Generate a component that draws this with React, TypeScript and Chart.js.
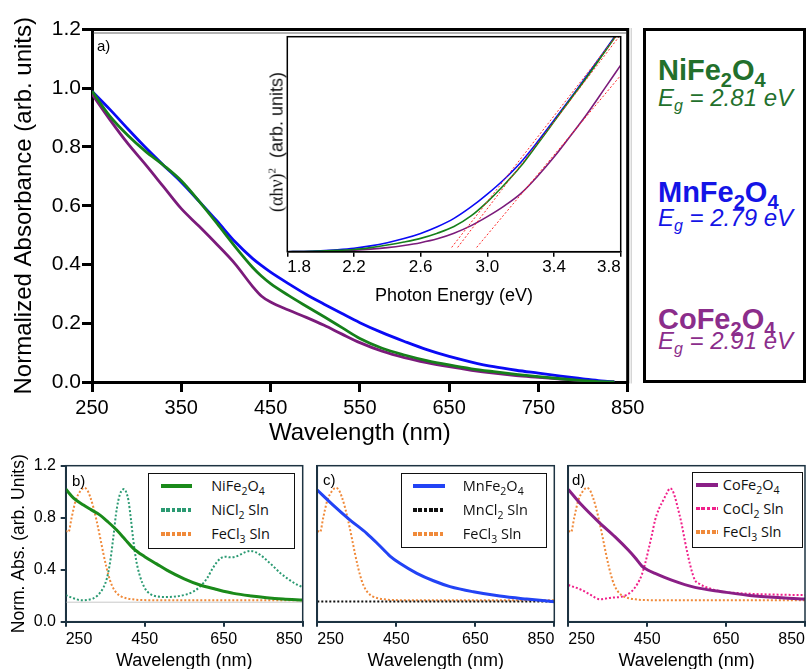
import React, { useEffect, useRef } from "react";
import { Chart, registerables } from "chart.js";

Chart.register(...registerables);
Chart.defaults.font.family = "'Liberation Sans', Arial, Helvetica, sans-serif";
Chart.defaults.color = "#000";

// ---------------- data: panel a (main) ----------------
const MAIN_WAVELENGTH = [250, 270, 290, 310, 330, 350, 370, 390, 410, 430, 440, 450, 470, 490, 510, 530, 550, 575, 600, 625, 650, 675, 700, 725, 750, 775, 800, 820, 835];
const MAIN_NIFE2O4 = [0.99, 0.905, 0.84, 0.785, 0.738, 0.685, 0.615, 0.54, 0.462, 0.39, 0.36, 0.335, 0.295, 0.258, 0.222, 0.185, 0.148, 0.115, 0.092, 0.073, 0.058, 0.045, 0.035, 0.026, 0.018, 0.011, 0.005, 0.001, 0.0];
const MAIN_MNFE2O4 = [0.99, 0.928, 0.862, 0.798, 0.738, 0.68, 0.615, 0.548, 0.478, 0.42, 0.396, 0.374, 0.335, 0.298, 0.265, 0.233, 0.202, 0.168, 0.138, 0.11, 0.087, 0.068, 0.052, 0.04, 0.03, 0.02, 0.011, 0.004, 0.0];
const MAIN_COFE2O4 = [0.98, 0.893, 0.812, 0.74, 0.665, 0.59, 0.53, 0.468, 0.403, 0.325, 0.292, 0.272, 0.245, 0.22, 0.193, 0.163, 0.134, 0.105, 0.083, 0.066, 0.052, 0.04, 0.03, 0.022, 0.016, 0.01, 0.005, 0.001, 0.0];
const MAIN_X_TICKS = [250, 350, 450, 550, 650, 750, 850];
const MAIN_Y_TICKS = [0, 0.2, 0.4, 0.6, 0.8, 1.0, 1.2];

// ---------------- data: inset (Tauc plot) ----------------
const INSET_ENERGY = [1.8, 1.9, 2.0, 2.1, 2.2, 2.3, 2.4, 2.5, 2.6, 2.7, 2.8, 2.9, 3.0, 3.1, 3.2, 3.3, 3.4, 3.5, 3.6, 3.7, 3.8];
const INSET_NIFE2O4 = [0, 0.001, 0.003, 0.006, 0.01, 0.019, 0.031, 0.045, 0.062, 0.086, 0.117, 0.165, 0.232, 0.31, 0.397, 0.5, 0.605, 0.71, 0.815, 0.925, 1.035];
const INSET_MNFE2O4 = [0, 0.001, 0.004, 0.009, 0.016, 0.027, 0.042, 0.061, 0.085, 0.116, 0.155, 0.207, 0.268, 0.336, 0.415, 0.51, 0.612, 0.715, 0.822, 0.93, 1.04];
const INSET_COFE2O4 = [0, 0.0005, 0.002, 0.004, 0.007, 0.012, 0.019, 0.029, 0.042, 0.06, 0.086, 0.12, 0.163, 0.212, 0.27, 0.35, 0.44, 0.54, 0.643, 0.755, 0.868];
const INSET_X_TICKS = [1.8, 2.2, 2.6, 3.0, 3.4, 3.8];
const FIT_MN_E = [2.786, 3.77];
const FIT_MN_Y = [0.02, 1.0];
const FIT_NI_E = [2.822, 3.79];
const FIT_NI_Y = [0.02, 1.0];
const FIT_CO_E = [2.936, 3.8];
const FIT_CO_Y = [0.02, 0.82];

// ---------------- data: panels b, c, d ----------------
const PANEL_X_TICKS = [250, 450, 650, 850];
const PANEL_Y_TICKS = [0, 0.4, 0.8, 1.2];

const FECL3_WL = [250, 257, 265, 275, 286, 297, 305, 312, 320, 328, 337, 345, 353, 362, 370, 379, 390, 404, 420, 438, 500, 600, 700, 850];
const FECL3_ABS = [0.7, 0.69, 0.8, 0.93, 1.0, 1.03, 1.01, 0.96, 0.88, 0.78, 0.65, 0.53, 0.42, 0.32, 0.26, 0.22, 0.195, 0.18, 0.172, 0.167, 0.165, 0.165, 0.165, 0.165];

const NICL2_WL = [250, 270, 290, 303, 320, 330, 345, 354, 362, 371, 377, 383, 390, 398, 404, 409, 415, 421, 428, 438, 450, 463, 480, 506, 530, 556, 575, 590, 607, 624, 641, 655, 666, 680, 691, 705, 717, 730, 742, 760, 776, 793, 810, 830, 850];
const NICL2_ABS = [0.205, 0.18, 0.165, 0.167, 0.18, 0.2, 0.26, 0.33, 0.45, 0.66, 0.82, 0.93, 1.0, 1.02, 0.99, 0.93, 0.79, 0.63, 0.48, 0.35, 0.26, 0.215, 0.195, 0.19, 0.195, 0.21, 0.235, 0.27, 0.33, 0.42, 0.485, 0.5, 0.495, 0.5, 0.515, 0.535, 0.545, 0.535, 0.515, 0.47, 0.425, 0.375, 0.335, 0.295, 0.265];

const NIFE2O4_PANEL_WL = [250, 270, 295, 315, 337, 358, 379, 400, 421, 450, 480, 506, 550, 590, 630, 675, 720, 759, 800, 850];
const NIFE2O4_PANEL_ABS = [1.02, 0.95, 0.897, 0.86, 0.82, 0.765, 0.705, 0.635, 0.564, 0.5, 0.445, 0.397, 0.33, 0.282, 0.25, 0.218, 0.198, 0.185, 0.175, 0.167];

const BASELINE_WL = [250, 850];
const BASELINE_ABS = [0.15, 0.15];

const MNCL2_WL = [250, 850];
const MNCL2_ABS = [0.155, 0.155];

const MNFE2O4_PANEL_WL = [250, 290, 333, 375, 406, 434, 459, 502, 544, 586, 645, 712, 780, 850];
const MNFE2O4_PANEL_ABS = [1.013, 0.897, 0.782, 0.68, 0.59, 0.505, 0.449, 0.372, 0.315, 0.27, 0.23, 0.197, 0.174, 0.154];

const COFE2O4_PANEL_WL = [250, 284, 326, 368, 402, 420, 436, 450, 470, 512, 571, 639, 723, 850];
const COFE2O4_PANEL_ABS = [1.018, 0.897, 0.77, 0.654, 0.551, 0.49, 0.43, 0.4, 0.372, 0.32, 0.264, 0.231, 0.197, 0.174];

const COCL2_WL = [250, 284, 310, 330, 345, 360, 385, 400, 410, 425, 436, 445, 453, 462, 470, 480, 491, 500, 508, 514, 520, 528, 537, 545, 554, 562, 571, 583, 596, 620, 639, 680, 723, 800, 850];
const COCL2_ABS = [0.282, 0.244, 0.2, 0.172, 0.178, 0.185, 0.192, 0.21, 0.231, 0.29, 0.359, 0.45, 0.551, 0.67, 0.782, 0.87, 0.936, 0.99, 1.026, 1.01, 0.962, 0.87, 0.756, 0.63, 0.5, 0.4, 0.32, 0.29, 0.27, 0.245, 0.231, 0.22, 0.213, 0.207, 0.205];

// ---------------- colours ----------------
const C_NI = "#16801a";
const C_MN = "#0a0af5";
const C_CO = "#7b1b7b";
const C_NI_B = "#1a8a1a";
const C_MN_B = "#2243f5";
const C_CO_B = "#8a1f86";
const C_NICL2 = "#2b9a72";
const C_FECL3 = "#f08a3a";
const C_MNCL2 = "#111111";
const C_COCL2 = "#f0208a";
const C_FIT = "#ff2a2a";
const PANEL_AXIS = "#1d3342";
const FONT = "'Liberation Sans', Arial, Helvetica, sans-serif";

// ---------------- helpers ----------------
const pts = (xs: number[], ys: number[]) => xs.map((x, i) => ({ x, y: ys[i] }));

function line(data: any[], color: string, width: number, dash?: number[]) {
  return {
    data,
    borderColor: color,
    backgroundColor: color,
    borderWidth: width,
    borderDash: dash || [],
    borderCapStyle: "butt",
    pointRadius: 0,
    fill: false,
    cubicInterpolationMode: "monotone",
  };
}

function makeX(o: any) {
  return {
    type: "linear",
    position: "bottom",
    min: o.min,
    max: o.max,
    afterBuildTicks: (s: any) => {
      s.ticks = o.ticks.map((v: number) => ({ value: v }));
    },
    afterFit: (s: any) => {
      s.height = o.size;
      s.paddingLeft = 0;
      s.paddingRight = 0;
      s.paddingTop = 0;
      s.paddingBottom = 0;
    },
    border: { display: true, color: o.color, width: o.lineWidth },
    grid: {
      display: true,
      drawOnChartArea: false,
      drawTicks: true,
      tickLength: o.tickLength,
      tickWidth: o.lineWidth,
      tickColor: o.color,
      lineWidth: o.lineWidth,
      color: o.color,
    },
    ticks: {
      autoSkip: false,
      maxRotation: 0,
      minRotation: 0,
      align: o.align || "center",
      padding: o.pad,
      font: { size: o.font, family: FONT },
      color: "#000",
      callback: (v: number) => (o.fmt ? o.fmt(v) : String(v)),
    },
    title: {
      display: true,
      text: o.title,
      color: "#000",
      font: { size: o.titleFont, lineHeight: 1.2, family: FONT },
      padding: { top: 0, bottom: o.titlePad },
    },
  };
}

function makeY(o: any) {
  return {
    type: "linear",
    position: "left",
    min: o.min,
    max: o.max,
    afterBuildTicks: (s: any) => {
      s.ticks = o.ticks.map((v: number) => ({ value: v }));
    },
    afterFit: (s: any) => {
      s.width = o.size;
      s.paddingLeft = 0;
      s.paddingRight = 0;
      s.paddingTop = 0;
      s.paddingBottom = 0;
    },
    border: { display: o.border !== false, color: o.color, width: o.lineWidth },
    grid: {
      display: o.showTicks !== false,
      drawOnChartArea: false,
      drawTicks: true,
      tickLength: o.tickLength,
      tickWidth: o.lineWidth,
      tickColor: o.color,
      lineWidth: o.lineWidth,
      color: o.color,
    },
    ticks: {
      display: o.showTicks !== false,
      autoSkip: false,
      padding: o.pad,
      font: { size: o.font, family: FONT },
      color: "#000",
      callback: (v: number) => v.toFixed(1),
    },
    title: o.title
      ? {
          display: true,
          text: o.title,
          color: "#000",
          font: { size: o.titleFont, lineHeight: 1.2, family: FONT },
          padding: { top: o.titlePad, bottom: 0 },
        }
      : { display: false },
  };
}

function baseOptions(padTop: number, padRight: number, scales: any) {
  return {
    responsive: false,
    maintainAspectRatio: false,
    animation: false,
    devicePixelRatio: 1,
    events: [],
    layout: { padding: { left: 0, top: padTop, right: padRight, bottom: 0 } },
    plugins: { legend: { display: false }, tooltip: { enabled: false }, title: { display: false } },
    scales,
  };
}

function framePlugin(color: string, width: number, fillWhite?: boolean) {
  return {
    id: "frame",
    beforeDatasetsDraw(chart: any) {
      if (!fillWhite) return;
      const { ctx, chartArea: a } = chart;
      ctx.save();
      ctx.fillStyle = "#fff";
      ctx.fillRect(a.left, a.top, a.right - a.left, a.bottom - a.top);
      ctx.restore();
    },
    afterDraw(chart: any) {
      const { ctx, chartArea: a } = chart;
      ctx.save();
      ctx.strokeStyle = color;
      ctx.lineWidth = width;
      ctx.strokeRect(a.left, a.top, a.right - a.left, a.bottom - a.top);
      ctx.restore();
    },
  };
}

const mainFramePlugin = {
  id: "mainFrame",
  afterDraw(chart: any) {
    const { ctx, chartArea: a } = chart;
    ctx.save();
    ctx.strokeStyle = "#000";
    ctx.lineWidth = 3;
    ctx.beginPath();
    ctx.moveTo(a.left - 1.5, a.top);
    ctx.lineTo(a.right, a.top);
    ctx.lineTo(a.right, a.bottom + 1.5);
    ctx.stroke();
    ctx.lineWidth = 1;
    ctx.strokeStyle = "#666";
    ctx.beginPath();
    ctx.moveTo(a.left + 1.5, a.top + 3.5);
    ctx.lineTo(a.right - 1.5, a.top + 3.5);
    ctx.stroke();
    ctx.strokeStyle = "#c4c4c4";
    ctx.beginPath();
    ctx.moveTo(a.right + 3.5, a.top - 1.5);
    ctx.lineTo(a.right + 3.5, a.bottom + 1.5);
    ctx.stroke();
    ctx.restore();
  },
};

// ---------------- chart configs ----------------
function buildMain() {
  return {
    type: "line",
    data: {
      datasets: [
        line(pts(MAIN_WAVELENGTH, MAIN_NIFE2O4), C_NI, 2.8),
        line(pts(MAIN_WAVELENGTH, MAIN_MNFE2O4), C_MN, 2.8),
        line(pts(MAIN_WAVELENGTH, MAIN_COFE2O4), C_CO, 2.8),
      ],
    },
    options: baseOptions(29.5, 32.3, {
      x: makeX({
        min: 250, max: 850, ticks: MAIN_X_TICKS, size: 68, color: "#000", lineWidth: 3,
        tickLength: 10, font: 20, pad: 4, title: "Wavelength (nm)", titleFont: 24, titlePad: 2.6,
      }),
      y: makeY({
        min: 0, max: 1.2, ticks: MAIN_Y_TICKS, size: 92, color: "#000", lineWidth: 3,
        tickLength: 10, font: 21, pad: 1, title: "Normalized Absorbance (arb. units)", titleFont: 24, titlePad: 9.6,
      }),
    }),
    plugins: [mainFramePlugin],
  };
}

function buildInset() {
  return {
    type: "line",
    data: {
      datasets: [
        line(pts(FIT_MN_E, FIT_MN_Y), C_FIT, 1, [2, 2]),
        line(pts(FIT_NI_E, FIT_NI_Y), C_FIT, 1, [2, 2]),
        line(pts(FIT_CO_E, FIT_CO_Y), C_FIT, 1, [2, 2]),
        line(pts(INSET_ENERGY, INSET_NIFE2O4), C_NI, 1.6),
        line(pts(INSET_ENERGY, INSET_MNFE2O4), C_MN, 1.6),
        line(pts(INSET_ENERGY, INSET_COFE2O4), C_CO, 1.6),
      ],
    },
    options: baseOptions(6.7, 19.3, {
      x: makeX({
        min: 1.8, max: 3.8, ticks: INSET_X_TICKS, size: 63.3, color: "#000", lineWidth: 1.5,
        tickLength: 5, font: 17, pad: 0, align: "inner", fmt: (v: number) => v.toFixed(1),
        title: "Photon Energy (eV)", titleFont: 18, titlePad: 8.2,
      }),
      y: makeY({
        min: 0, max: 1.0, ticks: [0, 1], size: 47.3, color: "#000", lineWidth: 1.5,
        tickLength: 0, font: 12, pad: 0, showTicks: false, border: false,
      }),
    }),
    plugins: [framePlugin("#000", 1.5, true)],
  };
}

function buildPanel(datasets: any[], yWidth: number, rightPad: number, showY: boolean) {
  return {
    type: "line",
    data: { datasets },
    options: baseOptions(10.7, rightPad, {
      x: makeX({
        min: 250, max: 850, ticks: PANEL_X_TICKS, size: 53.3, color: PANEL_AXIS, lineWidth: 2,
        tickLength: 5, font: 16, pad: 3.7, align: "inner", title: "Wavelength (nm)", titleFont: 18, titlePad: 3.2,
      }),
      y: makeY({
        min: 0, max: 1.2, ticks: PANEL_Y_TICKS, size: yWidth, color: PANEL_AXIS, lineWidth: 2,
        tickLength: 5, font: 16, pad: 4.7, showTicks: showY,
        title: showY ? "Norm. Abs. (arb. Units)" : "", titleFont: 17.5, titlePad: 9,
      }),
    }),
    plugins: [framePlugin(PANEL_AXIS, 1.5)],
  };
}

const DOT = [2, 2];

function buildPanelB() {
  return buildPanel(
    [
      line(pts(NIFE2O4_PANEL_WL, NIFE2O4_PANEL_ABS), C_NI_B, 3),
      line(pts(NICL2_WL, NICL2_ABS), C_NICL2, 2, DOT),
      line(pts(FECL3_WL, FECL3_ABS), C_FECL3, 2, DOT),
      line(pts(BASELINE_WL, BASELINE_ABS), "#c8c8c8", 1),
    ],
    65.7, 17.3, true
  );
}

function buildPanelC() {
  return buildPanel(
    [
      line(pts(MNFE2O4_PANEL_WL, MNFE2O4_PANEL_ABS), C_MN_B, 3),
      line(pts(MNCL2_WL, MNCL2_ABS), C_MNCL2, 2, DOT),
      line(pts(FECL3_WL, FECL3_ABS), C_FECL3, 2, DOT),
    ],
    12.3, 15.7, false
  );
}

function buildPanelD() {
  return buildPanel(
    [
      line(pts(COFE2O4_PANEL_WL, COFE2O4_PANEL_ABS), C_CO_B, 3),
      line(pts(COCL2_WL, COCL2_ABS), C_COCL2, 2, DOT),
      line(pts(FECL3_WL, FECL3_ABS), C_FECL3, 2, DOT),
    ],
    13.3, 2, false
  );
}

// ---------------- components ----------------
function ChartCanvas(props: { left: number; top: number; width: number; height: number; build: () => any }) {
  const ref = useRef<HTMLCanvasElement>(null);
  useEffect(() => {
    const chart = new Chart(ref.current as HTMLCanvasElement, props.build() as any);
    return () => chart.destroy();
  }, []);
  return (
    <canvas
      ref={ref}
      width={props.width}
      height={props.height}
      style={{ position: "absolute", left: props.left, top: props.top, width: props.width, height: props.height }}
    />
  );
}

function Sub(props: { children: any; size: number; drop: number }) {
  return <span style={{ fontSize: props.size, position: "relative", top: props.drop }}>{props.children}</span>;
}

function Formula(props: { a: string; b: string; size: number; drop: number }) {
  return (
    <>
      {props.a}
      <Sub size={props.size} drop={props.drop}>2</Sub>
      {props.b}
      <Sub size={props.size} drop={props.drop}>4</Sub>
    </>
  );
}

function Abs(props: { left: number; top: number; size: number; style?: any; children: any }) {
  return (
    <div
      style={{
        position: "absolute",
        left: props.left,
        top: props.top,
        fontSize: props.size,
        lineHeight: `${props.size}px`,
        whiteSpace: "nowrap",
        fontFamily: FONT,
        ...(props.style || {}),
      }}
    >
      {props.children}
    </div>
  );
}

type LegendRow = { label: any; color: string; dotted: boolean };

function Legend(props: { left: number; top: number; width: number; height: number; sampleLeft: number; sampleWidth: number; textLeft: number; rows: LegendRow[] }) {
  const rowCy = [13.7, 37.7, 61.2];
  return (
    <div
      style={{
        position: "absolute",
        left: props.left,
        top: props.top,
        width: props.width,
        height: props.height,
        boxSizing: "border-box",
        border: "1.5px solid #111",
        background: "#fff",
      }}
    >
      {props.rows.map((r, i) => (
        <React.Fragment key={i}>
          <div
            style={{
              position: "absolute",
              left: props.sampleLeft - props.left - 1.5,
              top: rowCy[i] - 2 - 1.5,
              width: props.sampleWidth,
              height: r.dotted ? 3.6 : 4,
              background: r.dotted
                ? `repeating-linear-gradient(90deg, ${r.color} 0px, ${r.color} 3.6px, transparent 3.6px, transparent 5.3px)`
                : r.color,
            }}
          />
          <div
            style={{
              position: "absolute",
              left: props.textLeft - props.left - 1.5,
              top: rowCy[i] - 8 - 1.5,
              height: 16,
              lineHeight: "16px",
              fontSize: 14.5,
              fontFamily: "'Open Sans', 'Noto Sans', sans-serif",
              color: "#111",
              whiteSpace: "nowrap",
            }}
          >
            {r.label}
          </div>
        </React.Fragment>
      ))}
    </div>
  );
}

const LSub = (props: { children: any }) => (
  <span style={{ fontSize: 10.5, position: "relative", top: 4 }}>{props.children}</span>
);

export default function App() {
  return (
    <div
      style={{
        position: "fixed",
        left: 0,
        top: 0,
        width: 807,
        height: 669,
        overflow: "hidden",
        background: "#fff",
        fontFamily: FONT,
      }}
    >
      <ChartCanvas left={0} top={0} width={660} height={450} build={buildMain} />
      <ChartCanvas left={240} top={30} width={400} height={285} build={buildInset} />

      {/* inset y axis title */}
      <div
        style={{
          position: "absolute",
          left: 274,
          top: 141.7,
          transform: "translate(-50%, -50%) rotate(-90deg)",
          whiteSpace: "nowrap",
          fontSize: 18,
          lineHeight: "20px",
          fontFamily: FONT,
          color: "#111",
        }}
      >
        <span style={{ fontFamily: "'Liberation Serif', 'DejaVu Serif', serif" }}>
          (αhν)<sup style={{ fontSize: 11 }}>2</sup>
        </span>
        {"\u00a0\u00a0(arb. units)"}
      </div>

      <Abs left={97} top={38} size={15}>a)</Abs>

      {/* right-hand band-gap box */}
      <div
        style={{
          position: "absolute",
          left: 643,
          top: 28,
          width: 163,
          height: 355,
          boxSizing: "border-box",
          border: "3px solid #000",
          background: "#fff",
        }}
      />
      <Abs left={658} top={55.8} size={29} style={{ fontWeight: "bold", color: "#22702c" }}>
        <Formula a="NiFe" b="O" size={20} drop={7} />
      </Abs>
      <Abs left={658} top={85.5} size={24} style={{ fontStyle: "italic", color: "#22702c" }}>
        E<Sub size={16} drop={5}>g</Sub> = 2.81 eV
      </Abs>
      <Abs left={658} top={177.5} size={29} style={{ fontWeight: "bold", color: "#1414e6" }}>
        <Formula a="MnFe" b="O" size={20} drop={7} />
      </Abs>
      <Abs left={658} top={205.8} size={24} style={{ fontStyle: "italic", color: "#1414e6" }}>
        E<Sub size={16} drop={5}>g</Sub> = 2.79 eV
      </Abs>
      <Abs left={658} top={304.8} size={29} style={{ fontWeight: "bold", color: "#8b2d8b" }}>
        <Formula a="CoFe" b="O" size={20} drop={7} />
      </Abs>
      <Abs left={658} top={329.1} size={24} style={{ fontStyle: "italic", color: "#8b2d8b" }}>
        E<Sub size={16} drop={5}>g</Sub> = 2.91 eV
      </Abs>

      {/* bottom panels */}
      <ChartCanvas left={0} top={455} width={320} height={220} build={buildPanelB} />
      <ChartCanvas left={305} top={455} width={265} height={220} build={buildPanelC} />
      <ChartCanvas left={555} top={455} width={252} height={220} build={buildPanelD} />

      <Abs left={72} top={473} size={15}>b)</Abs>
      <Abs left={323} top={472} size={15}>c)</Abs>
      <Abs left={572} top={472} size={15}>d)</Abs>

      <Legend
        left={148.3} top={473.3} width={146.7} height={76}
        sampleLeft={162} sampleWidth={31} textLeft={211.7}
        rows={[
          { label: <>NiFe<LSub>2</LSub>O<LSub>4</LSub></>, color: C_NI_B, dotted: false },
          { label: <>NiCl<LSub>2</LSub> Sln</>, color: C_NICL2, dotted: true },
          { label: <>FeCl<LSub>3</LSub> Sln</>, color: C_FECL3, dotted: true },
        ]}
      />
      <Legend
        left={400.7} top={473.3} width={146.6} height={75}
        sampleLeft={414} sampleWidth={31.7} textLeft={463.3}
        rows={[
          { label: <>MnFe<LSub>2</LSub>O<LSub>4</LSub></>, color: C_MN_B, dotted: false },
          { label: <>MnCl<LSub>2</LSub> Sln</>, color: C_MNCL2, dotted: true },
          { label: <>FeCl<LSub>3</LSub> Sln</>, color: C_FECL3, dotted: true },
        ]}
      />
      <Legend
        left={691.7} top={471.7} width={111.6} height={76.6}
        sampleLeft={696.7} sampleWidth={22.3} textLeft={723.3}
        rows={[
          { label: <>CoFe<LSub>2</LSub>O<LSub>4</LSub></>, color: C_CO_B, dotted: false },
          { label: <>CoCl<LSub>2</LSub> Sln</>, color: C_COCL2, dotted: true },
          { label: <>FeCl<LSub>3</LSub> Sln</>, color: C_FECL3, dotted: true },
        ]}
      />
    </div>
  );
}
